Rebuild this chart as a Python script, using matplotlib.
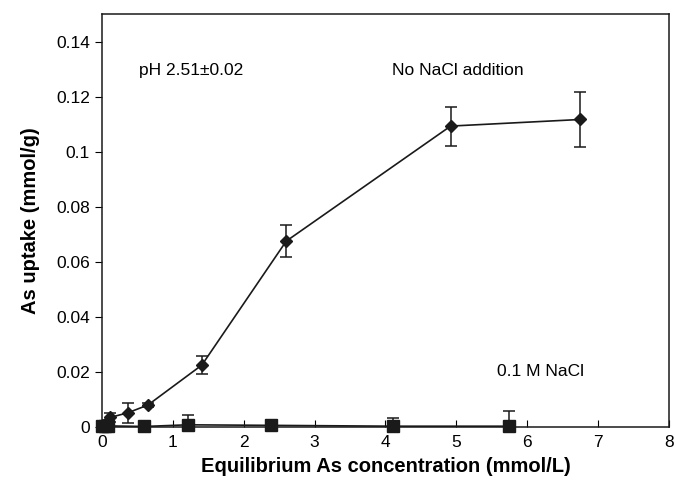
import matplotlib as mpl
from matplotlib import pyplot as plt

mpl.rcParams.update({'font.family': ['Liberation Sans', 'DejaVu Sans'], 'font.size': 12.5})

# No NaCl addition (diamonds)
no_nacl_x = [0.02, 0.06, 0.12, 0.37, 0.65, 1.41, 2.6, 4.92, 6.75]
no_nacl_y = [0.0005, 0.0015, 0.0035, 0.0052, 0.008, 0.0225, 0.0675, 0.1093, 0.1117]
no_nacl_err = [0.0005, 0.001, 0.0015, 0.0037, 0.0007, 0.0033, 0.0058, 0.0071, 0.01]

# 0.1 M NaCl (squares)
nacl_x = [0.0, 0.04, 0.09, 0.6, 1.21, 2.39, 4.11, 5.75]
nacl_y = [0.0003, 0.0003, 0.0004, 0.0002, 0.0008, 0.0006, 0.0003, 0.0003]
nacl_err = [0.0002, 0.0002, 0.0003, 0.0003, 0.0035, 0.0003, 0.0031, 0.0055]

fig = plt.figure(figsize=(6.75, 4.94), dpi=100)
ax = fig.add_axes([0.151, 0.1356, 0.84, 0.836])

sq = ax.errorbar(nacl_x, nacl_y, yerr=nacl_err, color='#1a1a1a', marker='s', markersize=8,
                 linewidth=1.2, capsize=4, elinewidth=1.1, capthick=1.1)
sq[0].set_clip_on(False)
dm = ax.errorbar(no_nacl_x, no_nacl_y, yerr=no_nacl_err, color='#1a1a1a', marker='D', markersize=6,
                 linewidth=1.2, capsize=4, elinewidth=1.1, capthick=1.1)
dm[0].set_clip_on(False)

ax.text(0.53, 0.1296, 'pH 2.51±0.02', va='center')
ax.text(4.09, 0.1296, 'No NaCl addition', va='center')
ax.text(5.57, 0.0203, '0.1 M NaCl', va='center')

ax.set_xlim(0, 8)
ax.set_ylim(0, 0.15)
ax.set_xticks(range(0, 9))
ax.set_yticks([0, 0.02, 0.04, 0.06, 0.08, 0.1, 0.12, 0.14])
ax.set_yticklabels(['0', '0.02', '0.04', '0.06', '0.08', '0.1', '0.12', '0.14'])
ax.tick_params(axis='x', direction='in', length=5, pad=6)
ax.tick_params(axis='y', direction='out', length=5)

ax.set_xlabel('Equilibrium As concentration (mmol/L)', fontsize=14.5, fontweight='bold', labelpad=5)
ax.set_ylabel('As uptake (mmol/g)', fontsize=14.5, fontweight='bold', labelpad=12)

for s in ax.spines.values():
    s.set_linewidth(1.1)
    s.set_color('#1a1a1a')

fig.savefig('out.png', dpi=100)
